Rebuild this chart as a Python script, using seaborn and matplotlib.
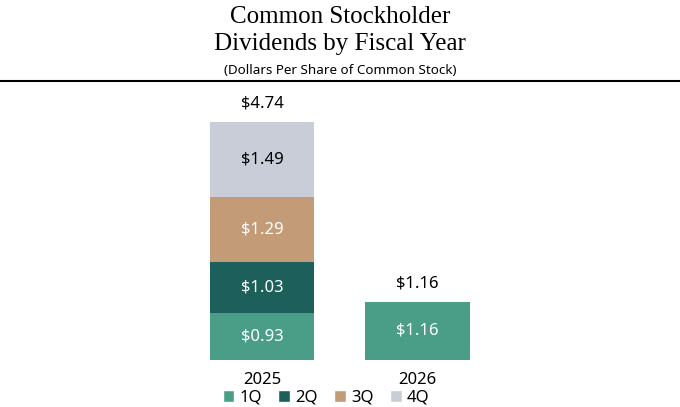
import numpy as np
import pandas as pd
import seaborn as sns
from matplotlib import pyplot as plt
from matplotlib.patches import Patch
from matplotlib.lines import Line2D

years = ["2025", "2026"]
quarters = ["1Q", "2Q", "3Q", "4Q"]
q1 = [0.93, 1.16]
q2 = [1.03, np.nan]
q3 = [1.29, np.nan]
q4 = [1.49, np.nan]
totals = [4.74, 1.16]

colors = ["#4a9e88", "#1d5f5a", "#c49b77", "#c9cdd8"]
text_colors = ["white", "white", "white", "black"]

sns.set_style("white")
plt.rcParams["font.family"] = ["Noto Sans", "DejaVu Sans"]
plt.rcParams["text.color"] = "black"
plt.rcParams["xtick.color"] = "black"

fig = plt.figure(figsize=(6.8, 4.07), dpi=100)
# axes placed in pixel terms: bars sit on y=360px, x centers at 262 and 417
ax = fig.add_axes([0, 47 / 407, 1, 275 / 407])

bottom = np.zeros(len(years))
for q, vals, c, tc in zip(quarters, [q1, q2, q3, q4], colors, text_colors):
    vals = np.array(vals, dtype=float)
    df = pd.DataFrame({"year": years, "value": np.nan_to_num(vals)})
    sns.barplot(data=df, x="year", y="value", color=c, bottom=bottom,
                width=0.67, ax=ax, saturation=1, linewidth=0)
    for i, v in enumerate(vals):
        if not np.isnan(v):
            ax.text(i, bottom[i] + v / 2, "${:.2f}".format(v), ha="center", va="center",
                    color=tc, fontsize=12)
    bottom = bottom + np.nan_to_num(vals)

for i, t in enumerate(totals):
    ax.text(i, t + 0.36, "${:.2f}".format(t), ha="center", va="center", fontsize=12)

ax.set_xlim(-262 / 155.5, (680 - 262) / 155.5)
ax.set_ylim(0, 275 / 50.2)
ax.set_xlabel("")
ax.set_ylabel("")
ax.set_yticks([])
ax.tick_params(axis="x", length=0, labelsize=12, pad=9)
sns.despine(ax=ax, left=True, bottom=True)

fig.text(0.5, 1 - 17 / 407, "Common Stockholder", ha="center", va="center",
         family="Liberation Serif", fontsize=18)
fig.text(0.5, 1 - 44 / 407, "Dividends by Fiscal Year", ha="center", va="center",
         family="Liberation Serif", fontsize=18)
fig.text(0.5, 1 - 71 / 407, "(Dollars Per Share of Common Stock)", ha="center", va="center",
         fontsize=9.7)
fig.add_artist(Line2D([0, 1], [1 - 81 / 407, 1 - 81 / 407], color="black", linewidth=1.5,
                      transform=fig.transFigure))

handles = [Patch(facecolor=c, label=q) for q, c in zip(quarters, colors)]
fig.legend(handles=handles, loc="center", bbox_to_anchor=(326 / 680, 1 - 398 / 407), ncol=4,
           frameon=False, fontsize=12, handlelength=0.7, handleheight=0.7,
           handletextpad=0.3, columnspacing=1.0)

fig.savefig("out.png", dpi=100)
